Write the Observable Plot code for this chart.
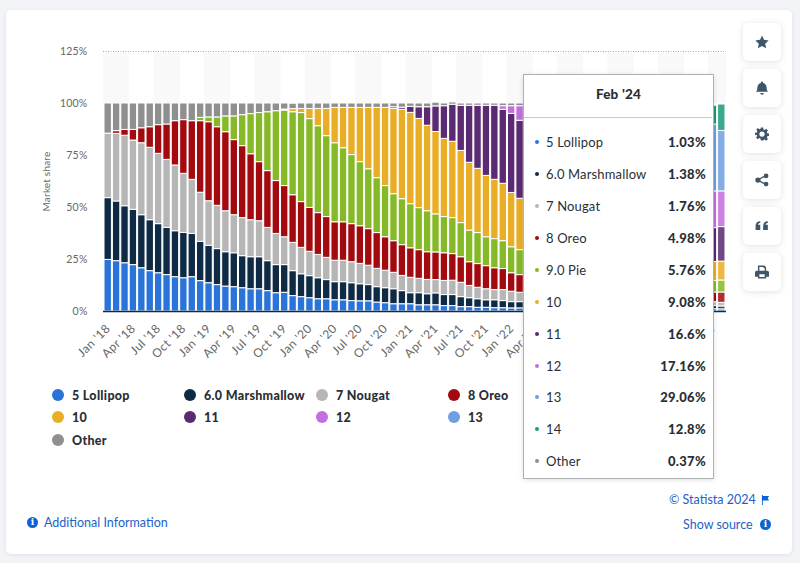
<!DOCTYPE html>
<html><head><meta charset="utf-8">
<script src="https://cdn.jsdelivr.net/npm/d3@7"></script>
<script src="https://cdn.jsdelivr.net/npm/@observablehq/plot@0.6"></script>
<style>
html,body{margin:0;padding:0;width:800px;height:563px;overflow:hidden;background:#f2f4f8;font-family:Lato,sans-serif;color:#2a2f36}
#card{position:absolute;left:6px;top:10px;width:786px;height:544px;background:#fff;border-radius:5px;box-shadow:0 1px 4px rgba(60,70,90,.10)}
#chart{position:absolute;left:0;top:0}
#chart svg{display:block;overflow:visible}
#chart g[aria-label="y-axis tick label"]{font-size:10.5px;letter-spacing:.2px}
#chart g[aria-label="x-axis tick label"]{font-size:12px;letter-spacing:.45px}
#chart g[aria-label="y-axis label"]{font-size:10px;letter-spacing:.2px}
.btn{position:absolute;left:743px;width:38px;height:38px;background:#fff;border-radius:5px;box-shadow:0 1px 6px rgba(60,70,90,.16);display:flex;align-items:center;justify-content:center}
.btn svg{width:14px;height:14px;fill:#3f5569}
.lg{position:absolute;display:flex;align-items:center;font-weight:900;font-size:12.5px;white-space:nowrap;height:16px;letter-spacing:.3px}
.lg i{position:absolute;left:-20px;top:2px;width:12px;height:12px;border-radius:50%}
#tip{position:absolute;left:523px;top:74px;width:189px;height:403px;background:#fff;border:1px solid #aeb0b2;box-shadow:0 1px 5px rgba(0,0,0,.12)}
#tip h4{margin:0;position:absolute;left:0;right:0;top:11px;text-align:center;font-size:13.5px;font-weight:900;color:#2a2f36;letter-spacing:.2px}
#tip hr{position:absolute;left:0;right:1px;top:42px;margin:0;border:0;border-top:1px solid #c9c9c9}
.tr{position:absolute;left:0;right:0;height:18px;font-size:13px;line-height:18px;letter-spacing:.15px}
.tr i{position:absolute;left:11px;top:7px;width:4px;height:4px;border-radius:50%}
.tr span{position:absolute;left:22px}
.tr b{position:absolute;right:7px;font-weight:900;letter-spacing:.3px}
.link{position:absolute;color:#1c62c8;font-size:12.5px;white-space:nowrap}
.info{position:absolute;width:11px;height:11px;border-radius:50%;background:#0b63d6;color:#fff;font:bold 9px/11px "DejaVu Serif",serif;text-align:center}
</style></head><body>
<div id="card"></div>
<div id="chart"></div>
<div id="legend"></div>
<div class="btn" style="top:23px"><svg viewBox="0 0 24 24"><path d="M12 1l3.4 7.3 7.9 1-5.8 5.5 1.5 7.9-7-3.9-7 3.9 1.5-7.9L.7 9.3l7.9-1z"/></svg></div>
<div class="btn" style="top:69px"><svg viewBox="0 0 24 24"><path d="M12 1a2 2 0 0 1 2 2v.6c3.6.9 6 4 6 7.9 0 4 1 5.500 2.500 7H1.500C3 17 4 15.500 4 11.500c0-3.900 2.400-7 6-7.900V3a2 2 0 0 1 2-2zM9 20.500h6a3 3 0 0 1-6 0z"/></svg></div>
<div class="btn" style="top:115px"><svg viewBox="0 0 24 24"><path fill-rule="evenodd" d="M10 1h4l.6 3.200 2 .8 2.700-1.800 2.800 2.800-1.800 2.700.8 2 3.200.6v4l-3.200.6-.8 2 1.800 2.700-2.800 2.800-2.700-1.800-2 .8L14 23h-4l-.6-3.200-2-.8-2.700 1.800-2.800-2.800 1.800-2.700-.8-2L0 14v-4l3.200-.6.8-2L2.200 4.700 5 1.900l2.700 1.800 2-.8zM12 7.500a4.500 4.500 0 1 0 0 9 4.500 4.500 0 0 0 0-9z"/></svg></div>
<div class="btn" style="top:161px"><svg viewBox="0 0 24 24"><circle cx="19" cy="5" r="4"/><circle cx="19" cy="19" r="4"/><circle cx="5" cy="12" r="4.500"/><path d="M5 10.500l13-7 1 2-13 7zM5 13.500l13 7 1-2-13-7z"/></svg></div>
<div class="btn" style="top:207px"><svg viewBox="0 0 24 24"><path d="M1 12c0-5 3-8 8-8v3c-2 0-3.500 1-4 3h4v9H1zM14 12c0-5 3-8 8-8v3c-2 0-3.500 1-4 3h4v9h-8z"/></svg></div>
<div class="btn" style="top:253px"><svg viewBox="0 0 24 24"><path fill-rule="evenodd" d="M5 1h11l3 3v6h2a3 3 0 0 1 3 3v7h-5v3H5v-3H0v-7a3 3 0 0 1 3-3h2zM7.500 3.500V10h9V5h-2V3.500zM7.500 16v4.500h9V16z"/></svg></div>
<div id="tip"><h4>Feb '24</h4><hr></div>
<div class="link" style="left:669px;top:492px">© Statista 2024</div>
<svg style="position:absolute;left:761px;top:495px" width="9" height="10" viewBox="0 0 10 11"><path fill="#0b63d6" d="M1 0h1v11H1zM2 1h7L7.500 3.500 9 6H2z"/></svg>
<div class="link" style="left:683px;top:517px">Show source</div>
<div class="info" style="left:760px;top:519px">i</div>
<div class="info" style="left:27px;top:517px">i</div>
<div class="link" style="left:44px;top:515px">Additional Information</div>
<script>
const months = [
"Jan '18","Feb '18","Mar '18","Apr '18","May '18","Jun '18","Jul '18","Aug '18","Sep '18","Oct '18","Nov '18","Dec '18",
"Jan '19","Feb '19","Mar '19","Apr '19","May '19","Jun '19","Jul '19","Aug '19","Sep '19","Oct '19","Nov '19","Dec '19",
"Jan '20","Feb '20","Mar '20","Apr '20","May '20","Jun '20","Jul '20","Aug '20","Sep '20","Oct '20","Nov '20","Dec '20",
"Jan '21","Feb '21","Mar '21","Apr '21","May '21","Jun '21","Jul '21","Aug '21","Sep '21","Oct '21","Nov '21","Dec '21",
"Jan '22","Feb '22","Mar '22","Apr '22","May '22","Jun '22","Jul '22","Aug '22","Sep '22","Oct '22","Nov '22","Dec '22",
"Jan '23","Feb '23","Mar '23","Apr '23","May '23","Jun '23","Jul '23","Aug '23","Sep '23","Oct '23","Nov '23","Dec '23",
"Jan '24","Feb '24"];
const tickLabels = ["Jan '18","Apr '18","Jul '18","Oct '18","Jan '19","Apr '19","Jul '19","Oct '19","Jan '20","Apr '20","Jul '20","Oct '20","Jan '21","Apr '21","Jul '21","Oct '21","Jan '22","Apr '22","Jul '22","Oct '22","Jan '23","Apr '23","Jul '23","Oct '23","Jan '24"];
const shadedQuarters = ["Jan '18","Feb '18","Mar '18","Jul '18","Aug '18","Sep '18","Jan '19","Feb '19","Mar '19","Jul '19","Aug '19","Sep '19","Jan '20","Feb '20","Mar '20","Jul '20","Aug '20","Sep '20","Jan '21","Feb '21","Mar '21","Jul '21","Aug '21","Sep '21","Jan '22","Feb '22","Mar '22","Jul '22","Aug '22","Sep '22","Jan '23","Feb '23","Mar '23","Jul '23","Aug '23","Sep '23","Jan '24","Feb '24"];
const yTicks = [0,25,50,75,100,125];

const lollipop = [24.8,24.2,23.2,22.3,20.8,19.4,18.4,17.5,16.5,16.0,
16.5,14.6,13.6,12.7,12.0,11.7,11.2,10.7,10.7,9.8,
8.8,9.0,7.4,6.9,6.4,5.9,5.9,5.4,5.4,5.0,
4.9,4.9,4.3,4.0,3.5,3.5,3.5,3.0,3.0,3.0,
2.6,2.6,2.1,2.1,1.8,1.8,1.6,1.6,1.5,1.5,
1.5,1.5,1.4,1.4,1.4,1.3,1.3,1.3,1.3,1.2,
1.2,1.2,1.2,1.2,1.1,1.1,1.1,1.1,1.1,1.1,
1.1,1.0,1.1,1.03];
const marshmallow = [29.7,28.7,27.4,26.6,25.5,24.5,23.6,22.7,22.1,21.8,
20.8,18.9,18.0,17.3,16.5,16.3,15.4,15.4,15.4,14.4,
13.5,13.3,12.0,11.0,10.6,10.1,9.2,8.7,8.7,8.6,
8.2,7.8,7.4,7.2,7.2,6.3,5.3,5.8,5.3,5.7,
5.3,5.3,4.8,4.3,4.1,3.6,3.8,3.4,3.0,3.0,
2.9,2.8,2.7,2.6,2.5,2.4,2.3,2.2,2.2,2.1,
2.0,2.0,1.9,1.8,1.8,1.7,1.7,1.6,1.6,1.5,
1.5,1.5,1.5,1.38];
const nougat = [30.9,32.5,33.9,33.3,34.6,34.8,33.8,32.7,31.6,28.4,
26.0,23.6,21.4,20.8,19.7,18.3,18.3,17.8,17.3,16.0,
15.0,13.4,13.6,12.7,11.7,11.2,10.7,10.3,10.3,10.1,
9.8,9.3,8.8,8.4,7.9,7.3,7.4,6.9,6.9,6.4,
6.8,6.9,6.9,5.9,5.5,5.3,4.9,5.3,5.0,4.5,
4.3,4.2,4.0,3.9,3.7,3.6,3.4,3.3,3.2,3.1,
2.9,2.8,2.7,2.6,2.5,2.4,2.3,2.2,2.1,2.0,
2.0,1.9,1.9,1.76];
const oreo = [0.1,1.3,2.8,5.1,7.2,9.9,13.8,17.0,21.3,25.8,
28.2,34.4,38.0,37.8,38.0,36.1,34.6,31.7,28.4,27.3,
25.4,24.6,22.9,22.0,21.1,20.1,19.6,18.5,18.5,18.3,
18.1,17.6,17.2,16.1,15.2,14.8,14.2,13.8,13.3,13.3,
13.3,12.8,12.3,11.4,11.4,11.1,10.5,10.1,8.9,8.5,
8.2,8.0,7.8,7.7,7.5,7.3,7.2,7.0,6.9,6.7,
6.5,6.4,6.2,6.0,5.9,5.7,5.6,5.4,5.3,5.2,
5.0,4.9,4.6,4.98];
const pie = [0,0,0,0,0,0,0,0,0,0,
0,1.6,2.3,4.7,7.6,11.4,14.9,19.3,23.6,28.3,
33.6,36.3,39.9,42.8,42.7,41.8,38.9,38.0,35.6,33.2,
30.8,28.8,26.4,24.6,22.6,22.1,21.2,20.2,19.7,18.3,
17.4,17.3,16.4,15.2,14.9,13.9,14.0,13.4,12.5,12.0,
11.6,11.3,11.1,10.8,10.5,10.2,9.9,9.6,9.3,9.0,
8.8,8.5,8.3,8.0,7.7,7.5,7.2,6.9,6.6,6.3,
6.1,5.9,5.6,5.76];
const v10 = [0,0,0,0,0,0,0,0,0,0,
0,0,0,0,0,0,0,0,0,0,
0,0.5,1.5,2.0,4.9,8.3,13.1,17.0,19.4,22.7,
26.1,29.5,33.8,37.6,41.0,43.0,43.9,42.9,41.1,39.6,
37.6,36.7,34.7,32.6,30.9,29.5,28.5,27.6,26.1,24.7,
24.0,23.4,22.6,21.9,21.1,20.3,19.4,18.6,17.7,16.9,
16.0,15.3,14.5,13.8,13.1,12.5,11.9,11.2,10.6,10.1,
9.6,9.3,9.1,9.08];
const v11 = [0,0,0,0,0,0,0,0,0,0,
0,0,0,0,0,0,0,0,0,0,
0,0,0,0,0,0,0,0,0,0,
0,0,0,0,0.8,1.0,2.9,5.6,8.9,12.3,
15.7,17.8,21.7,27.4,30.3,33.7,35.6,35.6,38.0,37.5,
37.4,36.9,36.0,35.0,33.9,32.7,31.4,30.1,28.8,27.5,
26.3,25.1,23.9,22.8,21.8,20.9,20.0,19.2,18.4,17.6,
17.0,16.6,16.3,16.6];
const v12 = [0,0,0,0,0,0,0,0,0,0,
0,0,0,0,0,0,0,0,0,0,
0,0,0,0,0,0,0,0,0,0,
0,0,0,0,0,0,0,0,0,0,
0,0,0,0,0,0,0,1.7,3.7,7.0,
9.3,11.4,14.3,16.2,17.7,18.9,19.8,20.5,21.0,21.3,
21.5,21.4,21.2,20.9,20.5,20.1,19.6,19.1,18.6,18.2,
17.9,17.7,17.6,17.16];
const v13 = [0,0,0,0,0,0,0,0,0,0,
0,0,0,0,0,0,0,0,0,0,
0,0,0,0,0,0,0,0,0,0,
0,0,0,0,0,0,0,0,0,0,
0,0,0,0,0,0,0,0,0,0,
0,0,0,0,0,0.3,1.2,2.8,4.5,6.9,
9.6,12.3,15.2,18.1,21.0,23.4,25.6,27.7,29.6,31.0,
32.1,32.6,32.2,29.06];
const v14 = [0,0,0,0,0,0,0,0,0,0,
0,0,0,0,0,0,0,0,0,0,
0,0,0,0,0,0,0,0,0,0,
0,0,0,0,0,0,0,0,0,0,
0,0,0,0,0,0,0,0,0,0,
0,0,0,0,0,0,0,0,0,0,
0,0,0,0,0,0,0,0,0.3,1.8,
3.6,6.2,9.1,12.8];
const other = [14.5,13.3,12.7,12.7,11.9,11.4,10.4,10.1,8.5,8.0,
8.5,6.9,6.7,6.7,6.2,6.2,5.6,5.1,4.6,4.2,
3.7,2.9,2.6,2.6,2.6,2.6,2.6,2.1,2.1,2.1,
2.1,2.1,2.1,2.1,1.8,2.0,1.6,1.8,1.8,1.8,
1.3,1.1,1.1,1.1,1.1,1.1,1.1,1.3,1.3,1.3,
0.8,0.7,0.7,0.6,0.6,0.6,0.5,0.6,0.5,0.5,
0.5,0.5,0.5,0.4,0.5,0.4,0.4,0.5,0.4,0.4,
0.4,0.4,0.4,0.37];

const names = ["5 Lollipop","6.0 Marshmallow","7 Nougat","8 Oreo","9.0 Pie","10","11","12","13","14","Other"];
const colors = ["#2a74d9","#0f2a44","#b6b6b6","#a30a10","#86b927","#e9ae26","#5a2a72","#c36ede","#6f9fe0","#1a9c7c","#8f8f8f"];
const values = [lollipop,marshmallow,nougat,oreo,pie,v10,v11,v12,v13,v14,other];
const tipValues = ["1.03%","1.38%","1.76%","4.98%","5.76%","9.08%","16.6%","17.16%","29.06%","12.8%","0.37%"];

const rows = names.flatMap((name,s)=>months.map((month,m)=>({month,version:name,share:values[s][m]}))).filter(d=>d.share>0);
const hovered = "Feb '24";

const plot = Plot.plot({
  width:800,height:370,
  marginLeft:103,marginRight:74,marginTop:51,marginBottom:59,
  style:{fontFamily:"Lato,sans-serif",fontSize:"11px",color:"#666",background:"transparent",overflow:"visible"},
  x:{type:"band",domain:months,padding:0.12,round:false,label:null},
  y:{domain:[0,125],label:null},
  color:{domain:names,range:colors},
  marks:[
    Plot.barY(shadedQuarters,{x:d=>d,y1:100,y2:124,fill:"#f9f9f9",insetLeft:-1,insetRight:-1}),
    Plot.ruleY([125],{stroke:"#a9a9a9",strokeDasharray:"1,1.5"}),
    Plot.barY(rows,Plot.stackY({order:null},{x:"month",y:"share",z:"version",fill:"version",stroke:"#fff",strokeWidth:1,fillOpacity:d=>d.month===hovered?0.86:1})),
    Plot.ruleY([0],{stroke:"#0f2a44",strokeWidth:1.5}),
    Plot.axisY({ticks:yTicks,tickFormat:d=>d+"%",tickSize:0,tickPadding:16,fill:"#666",label:"Market share",labelAnchor:"center",labelArrow:"none",labelOffset:61}),
    Plot.axisX({ticks:tickLabels,tickRotate:-45,tickSize:0,tickPadding:15,fill:"#666",label:null})
  ]
});
document.getElementById("chart").appendChild(plot);

const legend = document.getElementById("legend");
const legendCols = [72,204,336,468,600];
const legendRows = [387,409,432];
names.forEach((n,i)=>{
  const e=document.createElement("div");e.className="lg";
  const c=i%5,r=Math.floor(i/5);
  e.style.left=legendCols[c]+"px";e.style.top=legendRows[r]+"px";
  e.innerHTML=`<i style="background:${colors[i]}"></i>${n}`;
  legend.appendChild(e);
});
const tip=document.getElementById("tip");
const tipTops=[58,90,122,154,186,218,250,282,313,345,377];
names.forEach((n,i)=>{
  const e=document.createElement("div");e.className="tr";e.style.top=tipTops[i]+"px";
  e.innerHTML=`<i style="background:${colors[i]}"></i><span>${n}</span><b>${tipValues[i]}</b>`;
  tip.appendChild(e);
});
</script>
</body></html>
